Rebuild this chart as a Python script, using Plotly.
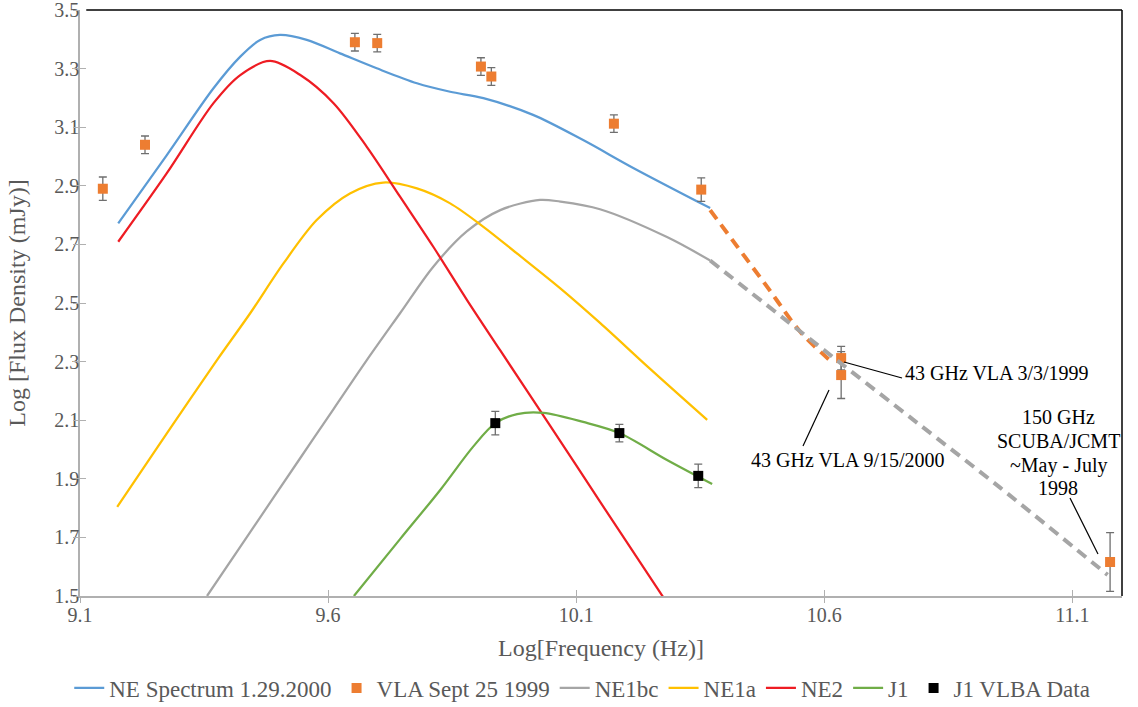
import plotly.graph_objects as go

# ---------------- data ----------------
ne_x = [9.177, 9.275, 9.369, 9.423, 9.463, 9.503, 9.557, 9.624, 9.698, 9.779, 9.846, 9.913, 10.013, 10.114, 10.215, 10.370]
ne_y = [2.772, 3.005, 3.233, 3.341, 3.398, 3.415, 3.398, 3.352, 3.301, 3.250, 3.221, 3.199, 3.142, 3.056, 2.961, 2.824]

ne_ext_x = [10.370, 10.485, 10.552, 10.613]
ne_ext_y = [2.817, 2.555, 2.401, 2.302]

ne1bc_x = [9.356, 9.443, 9.544, 9.611, 9.678, 9.745, 9.812, 9.880, 9.947, 10.027, 10.068, 10.148, 10.283, 10.370]
ne1bc_y = [1.500, 1.718, 1.971, 2.138, 2.305, 2.465, 2.624, 2.745, 2.817, 2.852, 2.846, 2.820, 2.725, 2.645]

ne1bc_ext_x = [10.370, 10.620, 10.788, 10.955, 11.171]
ne1bc_ext_y = [2.645, 2.312, 2.090, 1.869, 1.572]

ne1a_x = [9.175, 9.275, 9.376, 9.443, 9.510, 9.577, 9.644, 9.711, 9.779, 9.846, 9.913, 9.980, 10.068, 10.148, 10.249, 10.364]
ne1a_y = [1.804, 2.055, 2.305, 2.465, 2.635, 2.783, 2.874, 2.911, 2.891, 2.840, 2.760, 2.670, 2.550, 2.432, 2.275, 2.101]

ne2_x = [9.177, 9.275, 9.369, 9.423, 9.483, 9.544, 9.611, 9.678, 9.745, 9.812, 9.880, 9.947, 10.048, 10.148, 10.275]
ne2_y = [2.709, 2.943, 3.182, 3.278, 3.326, 3.278, 3.182, 3.033, 2.863, 2.692, 2.510, 2.338, 2.080, 1.822, 1.497]

j1_x = [9.652, 9.745, 9.826, 9.892, 9.937, 9.981, 10.034, 10.114, 10.187, 10.283, 10.374]
j1_y = [1.500, 1.694, 1.862, 2.009, 2.090, 2.121, 2.125, 2.094, 2.056, 1.964, 1.882]

vla_x = [9.146, 9.231, 9.654, 9.699, 9.908, 9.929, 10.176, 10.352]
vla_y = [2.890, 3.040, 3.390, 3.387, 3.307, 3.273, 3.112, 2.887]
vla_err = [0.04, 0.03, 0.03, 0.03, 0.03, 0.03, 0.03, 0.04]

extra_x = [10.634, 10.634, 11.176]
extra_y = [2.312, 2.254, 1.616]
extra_err = [0.04, 0.08, 0.10]

vlba_x = [9.937, 10.187, 10.346]
vlba_y = [2.090, 2.056, 1.910]
vlba_err = [0.04, 0.03, 0.04]

x_ticks = [9.1, 9.6, 10.1, 10.6, 11.1]
y_ticks = [1.5, 1.7, 1.9, 2.1, 2.3, 2.5, 2.7, 2.9, 3.1, 3.3, 3.5]

FONT = "Liberation Serif, Times New Roman, serif"
BLUE, ORANGE, GRAY, YELLOW, RED, GREEN = "#5b9bd5", "#ed7d31", "#a5a5a5", "#ffc000", "#ee1c23", "#70ad47"
ERRC = "#6f6f6f"
AXC = "#b0b0b0"

W, H = 1138, 707
L, R, T, B = 80, 16, 10, 111
pw, ph = W - L - R, H - T - B

fig = go.Figure()

def line(x, y, color, name, show=True, dash=None, width=2.25):
    fig.add_trace(go.Scatter(x=x, y=y, mode="lines", name=name, showlegend=show,
                             line=dict(color=color, width=width, shape="spline", smoothing=0.9,
                                       dash=dash)))

line(ne_x, ne_y, BLUE, "NE Spectrum 1.29.2000")
fig.add_trace(go.Scatter(x=vla_x, y=vla_y, mode="markers", name="VLA Sept 25 1999",
                         marker=dict(symbol="square", size=10, color=ORANGE),
                         error_y=dict(type="data", array=vla_err, color=ERRC, thickness=1.3, width=4)))
line(ne1bc_x, ne1bc_y, GRAY, "NE1bc")
line(ne1a_x, ne1a_y, YELLOW, "NE1a")
line(ne2_x, ne2_y, RED, "NE2")
line(j1_x, j1_y, GREEN, "J1")
fig.add_trace(go.Scatter(x=vlba_x, y=vlba_y, mode="markers", name="J1 VLBA Data",
                         marker=dict(symbol="square", size=10, color="black"),
                         error_y=dict(type="data", array=vlba_err, color=ERRC, thickness=1.3, width=4)))
fig.add_trace(go.Scatter(x=extra_x, y=extra_y, mode="markers", showlegend=False,
                         marker=dict(symbol="square", size=10, color=ORANGE),
                         error_y=dict(type="data", array=extra_err, color=ERRC, thickness=1.3, width=4)))
line(ne_ext_x, ne_ext_y, ORANGE, "", show=False, dash="11px,7px", width=4)
line(ne1bc_ext_x, ne1bc_ext_y, GRAY, "", show=False, dash="11px,7px", width=4)

# annotations with leader lines (placed in pixel terms of the plot area)
ann_font = dict(family=FONT, size=20, color="black")
annots = [
    dict(text="43 GHz VLA 3/3/1999", px=997, py=373),
    dict(text="43 GHz VLA 9/15/2000", px=848, py=460),
    dict(text="150 GHz", px=1058, py=417),
    dict(text="SCUBA/JCMT", px=1058, py=441),
    dict(text="~May - July", px=1058, py=465),
    dict(text="1998", px=1058, py=488),
]

def px2paper(px, py):
    return (px - L) / pw, (H - B - py) / ph

for a in annots:
    xp, yp = px2paper(a["px"], a["py"])
    fig.add_annotation(xref="paper", yref="paper", x=xp, y=yp, text=a["text"], showarrow=False,
                       xanchor="center", yanchor="middle", font=ann_font, align="center")
leaders = [((902, 378), (844, 362)), ((803, 446), (829, 390)), ((1070, 498), (1098, 554))]
for (x0, y0), (x1, y1) in leaders:
    a0 = px2paper(x0, y0); a1 = px2paper(x1, y1)
    fig.add_shape(type="line", xref="paper", yref="paper", x0=a0[0], y0=a0[1], x1=a1[0], y1=a1[1],
                  line=dict(color="black", width=1.2))

# frame top/right black
fig.add_shape(type="line", xref="paper", yref="paper", x0=0.006, y0=1, x1=1, y1=1, line=dict(color="black", width=1.5))
fig.add_shape(type="line", xref="paper", yref="paper", x0=1, y0=0, x1=1, y1=1, line=dict(color="black", width=1.5))

tickfont = dict(family=FONT, size=20, color="#595959")
titlefont = dict(family=FONT, size=24, color="#595959")
tick_common = dict(showgrid=False, zeroline=False, showline=False, showticklabels=False,
                   ticklen=6, tickcolor=AXC, tickwidth=1.2)
fig.update_layout(
    width=W, height=H, margin=dict(l=L, r=R, t=T, b=B, autoexpand=False),
    paper_bgcolor="white", plot_bgcolor="white",
    font=dict(family=FONT, color="#595959"),
    xaxis=dict(range=[9.1, 11.2], tickvals=x_ticks, ticktext=[str(v) for v in x_ticks],
               showgrid=False, zeroline=False, showline=True, linecolor=AXC, linewidth=1.5,
               ticks="", tickfont=tickfont, ticklabeloverflow="allow",
               title=dict(text="Log[Frequency (Hz)]", font=titlefont, standoff=14)),
    yaxis=dict(range=[1.5, 3.5], tickvals=y_ticks, ticktext=[f"{v:.1f}" for v in y_ticks],
               showgrid=False, zeroline=False, showline=True, linecolor=AXC, linewidth=1.5,
               ticks="", tickfont=tickfont, ticklabelstandoff=-5, ticklabeloverflow="allow",
               title=dict(text="Log [Flux Density (mJy)]", font=titlefont, standoff=22)),
    xaxis2=dict(overlaying="x", range=[9.1, 11.2], tickvals=x_ticks, ticks="inside", **tick_common),
    yaxis2=dict(overlaying="y", range=[1.5, 3.5], tickvals=y_ticks, ticks="inside", **tick_common),
    xaxis3=dict(overlaying="x", range=[9.1, 11.2], tickvals=x_ticks, ticks="outside", **tick_common),
    yaxis3=dict(overlaying="y", range=[1.5, 3.5], tickvals=y_ticks, ticks="outside", **tick_common),
    legend=dict(orientation="h", xref="paper", x=0.482, xanchor="center", y=-0.157, yanchor="middle",
                font=dict(family=FONT, size=23, color="#595959"), itemwidth=30, tracegroupgap=0),
    showlegend=True,
)
fig.add_trace(go.Scatter(x=[None], y=[None], xaxis="x2", yaxis="y2", showlegend=False, hoverinfo="skip"))
fig.add_trace(go.Scatter(x=[None], y=[None], xaxis="x3", yaxis="y3", showlegend=False, hoverinfo="skip"))

fig.write_html("out.html")
